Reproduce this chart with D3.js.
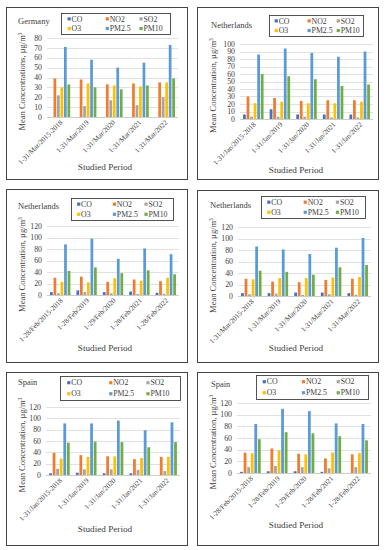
<!DOCTYPE html>
<html>
<head>
<meta charset="utf-8">
<script src="https://cdn.jsdelivr.net/npm/d3@7"></script>
<style>
  body { margin: 0; background: #fff; }
  svg { display: block; font-family: "Liberation Serif", "DejaVu Serif", serif; }
</style>
</head>
<body>
<svg id="chart" width="386" height="550"></svg>
<script>
// series + colours (Excel office palette)
var series = ["CO", "NO2", "SO2", "O3", "PM2.5", "PM10"];
var colors = ["#4472C4", "#ED7D31", "#A5A5A5", "#FFC000", "#5B9BD5", "#70AD47"];

var marCats = ["1-31/Mar/2015-2018", "1-31/Mar/2019", "1-31/Mar/2020", "1-31/Mar/2021", "1-31/Mar/2022"];
var janCats = ["1-31/Jan/2015-2018", "1-31/Jan/2019", "1-31/Jan/2020", "1-31/Jan/2021", "1-31/Jan/2022"];
var febCats = ["1-28/Feb/2015-2018", "1-28/Feb/2019", "1-29/Feb/2020", "1-28/Feb/2021", "1-28/Feb/2022"];

// rows follow the series order: CO, NO2, SO2, O3, PM2.5, PM10
var germanyMar = [
    [0, 0, 0, 0, 0],
    [39, 38, 33, 34, 35],
    [22, 11, 17, 12, 20],
    [30, 34, 32, 31, 35],
    [71, 58, 50, 55, 73],
    [33, 30, 28, 32, 39]
];
var netherlandsJan = [
    [6, 13, 6, 6, 6],
    [30, 28, 24, 25, 25],
    [3, 3, 3, 2, 2],
    [21, 23, 21, 21, 23],
    [86, 94, 88, 83, 90],
    [60, 57, 53, 44, 46]
];
var netherlandsFeb = [
    [5, 8, 5, 6, 4],
    [30, 32, 23, 27, 24],
    [3, 5, 3, 2, 2],
    [23, 22, 29, 25, 30],
    [88, 98, 63, 81, 71],
    [42, 48, 38, 43, 36]
];
var netherlandsMar = [
    [5, 5, 6, 6, 5],
    [30, 25, 24, 28, 30],
    [3, 4, 2, 3, 2],
    [29, 31, 31, 32, 33],
    [86, 81, 73, 84, 101],
    [44, 42, 37, 50, 54]
];
var spainJan = [
    [3, 4, 3, 3, 0],
    [39, 35, 33, 28, 32],
    [11, 10, 10, 9, 7],
    [29, 32, 33, 30, 32],
    [91, 91, 96, 79, 93],
    [57, 59, 58, 49, 58]
];
var spainFeb = [
    [2, 3, 3, 2, 0],
    [35, 42, 33, 25, 32],
    [10, 12, 10, 8, 10],
    [34, 39, 32, 35, 34],
    [84, 110, 106, 85, 84],
    [58, 70, 68, 63, 56]
];

var germanyTicks = [0, 10, 20, 30, 40, 50, 60, 70, 80];
var nlJanTicks = [0, 10, 20, 30, 40, 50, 60, 70, 80, 90, 100];
var ticks120 = [0, 20, 40, 60, 80, 100, 120];

var panels = [
    { title: "Germany", cats: marCats, values: germanyMar, ticks: germanyTicks, ylab: "Mean Concentrations, ",
      x: 6, y: 7, w: 181, h: 172, top: 31, bottom: 110, left: 41, right: 172, legend: [55, 6, 109, 21], tpos: [12, 17], xt: 160 },
    { title: "Netherlands", cats: janCats, values: netherlandsJan, ticks: nlJanTicks, ylab: "Mean Concentration, ",
      x: 197, y: 7, w: 181, h: 172, top: 37, bottom: 112, left: 43, right: 176, legend: [72, 8, 94, 21], tpos: [14, 21], xt: 163 },
    { title: "Netherlands", cats: febCats, values: netherlandsFeb, ticks: ticks120, ylab: "Mean Concentration, ",
      x: 6, y: 189, w: 181, h: 173, top: 37, bottom: 106, left: 41, right: 173, legend: [65, 9, 102, 22], tpos: [12, 20], xt: 159 },
    { title: "Netherlands", cats: marCats, values: netherlandsMar, ticks: ticks120, ylab: "Mean Concentration, ",
      x: 197, y: 190, w: 181, h: 172, top: 37, bottom: 106, left: 41, right: 174, legend: [64, 6, 104, 22], tpos: [13, 18], xt: 158 },
    { title: "Spain", cats: janCats, values: spainJan, ticks: ticks120, ylab: "Mean Concentration, ",
      x: 6, y: 372, w: 181, h: 173, top: 35, bottom: 103, left: 40, right: 174, legend: [54, 4, 120, 24], tpos: [12, 13], xt: 157 },
    { title: "Spain", cats: febCats, values: spainFeb, ticks: ticks120, ylab: "Mean Concentration, ",
      x: 197, y: 372, w: 181, h: 173, top: 31, bottom: 101, left: 40, right: 174, legend: [59, 3, 112, 24], tpos: [14, 15], xt: 153 }
];

var svg = d3.select('#chart');

panels.forEach(function (p) {
    var g = svg.append('g').attr('transform', 'translate(' + p.x + ',' + p.y + ')');

    g.append('rect')
        .attr('x', 0.5).attr('y', 0.5)
        .attr('width', p.w).attr('height', p.h)
        .attr('fill', '#fff')
        .attr('stroke', '#444').attr('stroke-width', 1);

    var ymax = p.ticks[p.ticks.length - 1];
    var y = d3.scaleLinear().domain([0, ymax]).range([p.bottom, p.top]);
    var x0 = d3.scaleBand().domain(p.cats).range([p.left, p.right]).paddingInner(0.23).paddingOuter(0.115);
    var x1 = d3.scaleBand().domain(series).range([0, x0.bandwidth()]).paddingInner(0.22);

    // gridlines
    g.append('g').selectAll('line')
        .data(p.ticks).join('line')
        .attr('x1', p.left).attr('x2', p.right)
        .attr('y1', function (d) { return Math.round(y(d)) + 0.5; })
        .attr('y2', function (d) { return Math.round(y(d)) + 0.5; })
        .attr('stroke', function (d) { return d === 0 ? '#bfbfbf' : '#d9d9d9'; })
        .attr('stroke-width', 0.8);

    // y tick labels
    g.append('g').selectAll('text')
        .data(p.ticks).join('text')
        .attr('x', p.left - 5)
        .attr('y', function (d) { return y(d); })
        .attr('dy', '0.35em')
        .attr('text-anchor', 'end')
        .attr('font-size', 7.8)
        .attr('fill', '#404040')
        .text(function (d) { return d; });

    // bars
    var groups = g.append('g').selectAll('g')
        .data(p.cats).join('g')
        .attr('transform', function (d) { return 'translate(' + x0(d) + ',0)'; });
    groups.selectAll('rect')
        .data(function (c, ci) { return series.map(function (s, si) { return { s: s, v: p.values[si][ci], i: si }; }); })
        .join('rect')
        .attr('x', function (d) { return x1(d.s); })
        .attr('width', x1.bandwidth())
        .attr('y', function (d) { return y(d.v); })
        .attr('height', function (d) { return p.bottom - y(d.v); })
        .attr('fill', function (d) { return colors[d.i]; });

    // rotated category labels
    g.append('g').selectAll('text')
        .data(p.cats).join('text')
        .attr('transform', function (d) {
            return 'translate(' + (x0(d) + x0.bandwidth() / 2 + 3) + ',' + (p.bottom + 6) + ') rotate(-45)';
        })
        .attr('text-anchor', 'end')
        .attr('font-size', 7.1)
        .attr('fill', '#404040')
        .text(function (d) { return d; });

    // axis titles
    g.append('text')
        .attr('x', 99).attr('y', p.xt)
        .attr('dy', '0.35em')
        .attr('text-anchor', 'middle')
        .attr('font-size', 9.2)
        .attr('fill', '#404040')
        .text('Studied Period');

    var yl = g.append('text')
        .attr('transform', 'translate(19,' + ((p.top + p.bottom) / 2 + 4) + ') rotate(-90)')
        .attr('text-anchor', 'middle')
        .attr('font-size', 8.5)
        .attr('fill', '#404040');
    yl.append('tspan').text(p.ylab + 'µg/m');
    yl.append('tspan').attr('dy', -3).attr('font-size', 5.5).text('3');

    // panel title
    g.append('text')
        .attr('x', p.tpos[0]).attr('y', p.tpos[1])
        .attr('font-size', 8.5)
        .attr('fill', '#404040')
        .text(p.title);

    // legend
    var L = p.legend;
    var lg = g.append('g').attr('transform', 'translate(' + L[0] + ',' + L[1] + ')');
    lg.append('rect')
        .attr('x', 0.5).attr('y', 0.5)
        .attr('width', L[2]).attr('height', L[3])
        .attr('fill', '#fff')
        .attr('stroke', '#404040').attr('stroke-width', 0.9);
    var colX = [0.06, 0.41, 0.72];
    var items = lg.selectAll('g.item')
        .data(series).join('g')
        .attr('class', 'item')
        .attr('transform', function (d, i) {
            var cx = colX[i % 3] * L[2];
            var cy = (i < 3 ? 0.28 : 0.74) * L[3];
            return 'translate(' + cx + ',' + cy + ')';
        });
    items.append('rect')
        .attr('x', 0).attr('y', -1.6)
        .attr('width', 3.2).attr('height', 3.2)
        .attr('fill', function (d, i) { return colors[i]; });
    items.append('text')
        .attr('x', 4).attr('dy', '0.35em')
        .attr('font-size', 7.8)
        .attr('fill', '#404040')
        .text(function (d) { return d; });
});
</script>
</body>
</html>
